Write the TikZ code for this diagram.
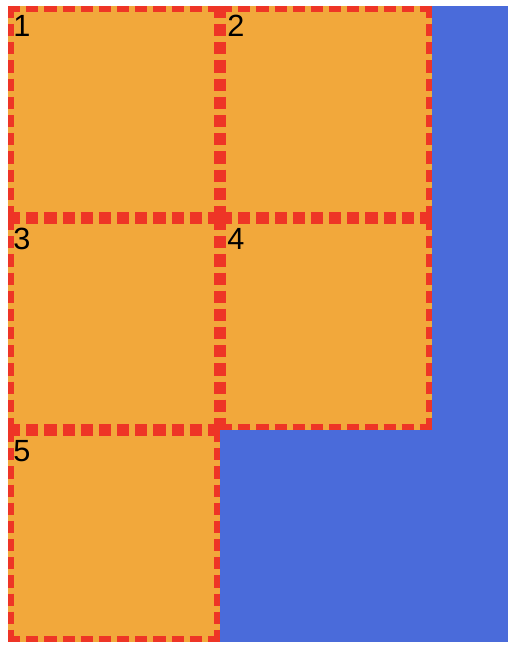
\documentclass[tikz,border=0pt]{standalone}
\usepackage{fontspec}
\setmainfont{Liberation Sans}
\definecolor{boxorange}{RGB}{242,168,59}
\definecolor{dashred}{RGB}{238,53,38}
\definecolor{bgblue}{RGB}{74,107,218}
\begin{document}
\begin{tikzpicture}[x=0.75pt,y=-0.75pt,
  cellborder/.style={draw=dashred,line width=4.5pt,line cap=butt,dash pattern=on 9.125pt off 4.5pt},
  num/.style={anchor=base west,inner sep=0pt,font=\fontsize{23pt}{23pt}\selectfont}]
\useasboundingbox (0,0) rectangle (516,660);
\fill[bgblue] (8,6) rectangle (508,642);
% cells
\foreach \x/\y in {8/6,220/6,8/218,220/218,8/430}{
  \fill[boxorange] (\x,\y) rectangle ++(212,212);
  \draw[cellborder] (\x,\y+3) -- ++(212,0);
  \draw[cellborder] (\x,\y+209) -- ++(212,0);
  \draw[cellborder] (\x+3,\y) -- ++(0,212);
  \draw[cellborder] (\x+209,\y) -- ++(0,212);
}
\node[num] (n1) at (13,37) {1};
\node[num] (n2) at (227,37) {2};
\node[num] (n3) at (13,249) {3};
\node[num] (n4) at (227,249) {4};
\node[num] (n5) at (13,461) {5};
\end{tikzpicture}
\end{document}
